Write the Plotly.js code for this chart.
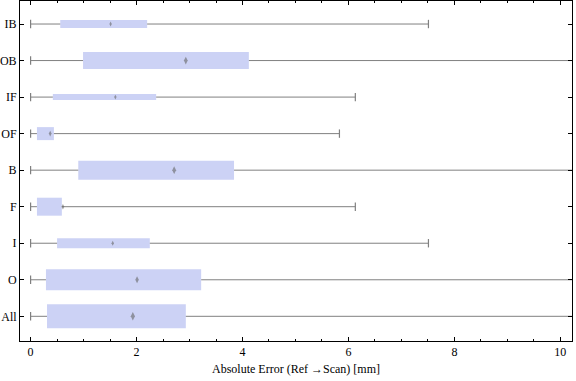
<!DOCTYPE html>
<html>
<head>
<meta charset="utf-8">
<script src="https://cdn.plot.ly/plotly-3.0.1.min.js"></script>
<style>html,body{margin:0;padding:0;background:#fff;}#chart{width:576px;height:381px;}</style>
</head>
<body>
<div id="chart"></div>
<script>
// Categories (bottom to top)
var categories = ["All", "O", "I", "F", "B", "OF", "IF", "OB", "IB"];
var minVals    = [0, 0, 0, 0, 0, 0, 0, 0, 0];
var q1Vals     = [0.31, 0.29, 0.50, 0.12, 0.90, 0.12, 0.42, 0.99, 0.56];
var medianVals = [1.93, 2.01, 1.55, 0.61, 2.71, 0.37, 1.60, 2.93, 1.51];
var q3Vals     = [2.93, 3.22, 2.25, 0.59, 3.84, 0.44, 2.37, 4.12, 2.20];
var maxVals    = [14.0, 14.0, 7.51, 6.13, 14.0, 5.83, 6.13, 14.0, 7.51];

// style: box thickness (category units) and median marker size (px)
var boxThickness = [24, 21, 10, 18, 19, 13, 6, 17, 8].map(function(p){ return p / 36.54; });
var medianSize   = [6, 5, 3.5, 4, 5.5, 4, 3.5, 5.5, 3.5];

var boxColor = "rgb(204,210,245)";
var whiskColor = "rgb(128,128,128)";

var wx = [], wy = [];
categories.forEach(function(c, i){
  wx.push(minVals[i], q1Vals[i], null, q3Vals[i], maxVals[i], null);
  wy.push(c, c, null, c, c, null);
});

var traces = [
  {
    type: "bar", orientation: "h",
    y: categories,
    x: q3Vals.map(function(v, i){ return v - q1Vals[i]; }),
    base: q1Vals,
    width: boxThickness,
    marker: {color: boxColor, line: {width: 0}},
    hoverinfo: "skip"
  },
  {
    type: "scatter", mode: "lines",
    x: wx, y: wy,
    line: {color: whiskColor, width: 1},
    hoverinfo: "skip"
  },
  {
    type: "scatter", mode: "markers",
    x: minVals.concat(maxVals),
    y: categories.concat(categories),
    marker: {symbol: "line-ns", size: 6, line: {color: whiskColor, width: 1.2}},
    hoverinfo: "skip"
  },
  {
    type: "scatter", mode: "markers",
    x: medianVals, y: categories,
    marker: {symbol: "diamond-tall", size: medianSize, color: "rgba(100,100,100,0.85)", line: {width: 0}},
    hoverinfo: "skip"
  }
];

var fontFam = "Liberation Serif, Times New Roman, serif";
var layout = {
  width: 576, height: 381,
  margin: {l: 20, r: 4, t: 1, b: 40},
  paper_bgcolor: "#fff", plot_bgcolor: "#fff",
  showlegend: false,
  barmode: "overlay",
  font: {family: fontFam, size: 12, color: "#000"},
  xaxis: {
    range: [-0.2, 10.22],
    dtick: 2, tick0: 0,
    ticks: "inside", ticklen: 4, tickcolor: "#000", tickwidth: 1,
    minor: {dtick: 0.5, ticks: "inside", ticklen: 2, tickcolor: "#000"},
    showline: true, linecolor: "#000", linewidth: 1, mirror: "allticks",
    showgrid: false, zeroline: false,
    tickfont: {family: fontFam, size: 12},
    title: {text: "Absolute Error (Ref \u2192Scan) [mm]", font: {family: fontFam, size: 12}, standoff: 6}
  },
  yaxis: {
    type: "category",
    categoryorder: "array", categoryarray: categories,
    range: [-0.676, 8.63],
    ticks: "inside", ticklen: 4, tickcolor: "#000",
    showline: true, linecolor: "#000", linewidth: 1, mirror: "allticks",
    showgrid: false, zeroline: false,
    tickfont: {family: fontFam, size: 12},
    ticklabelstandoff: 0
  }
};

Plotly.newPlot("chart", traces, layout, {staticPlot: true, displayModeBar: false});
</script>
</body>
</html>
